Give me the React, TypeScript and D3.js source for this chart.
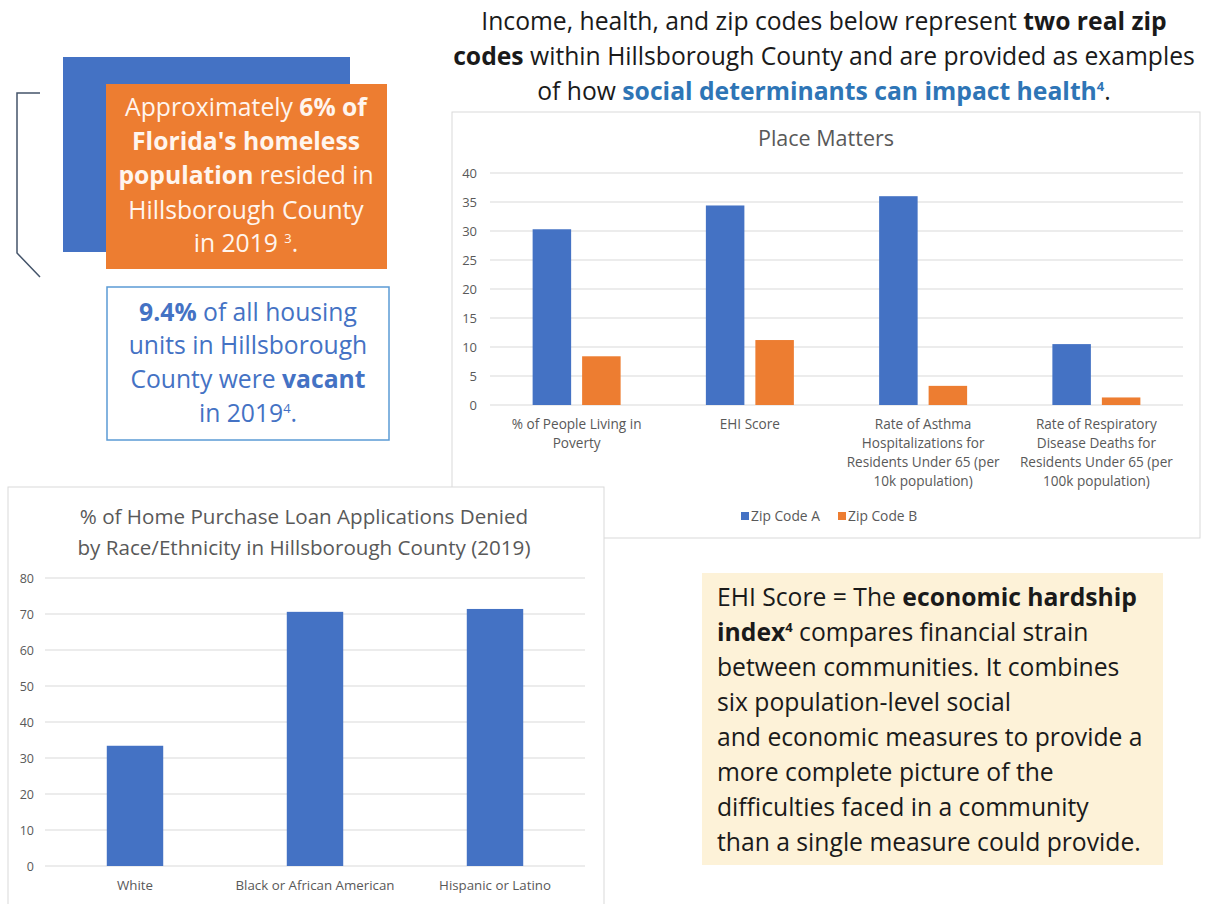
import React from "react";
import * as d3 from "d3";

// Place Matters chart
const zipCategories = [
  ["% of People Living in", "Poverty"],
  ["EHI Score"],
  ["Rate of Asthma", "Hospitalizations for", "Residents Under 65 (per", "10k population)"],
  ["Rate of Respiratory", "Disease Deaths for", "Residents Under 65 (per", "100k population)"],
];
const zipSeries = ["Zip Code A", "Zip Code B"];
const zipCodeA = [30.3, 34.4, 36.0, 10.5];
const zipCodeB = [8.4, 11.2, 3.3, 1.3];
const zipTicks = [0, 5, 10, 15, 20, 25, 30, 35, 40];

// loan denial chart
const loanCategories = ["White", "Black or African American", "Hispanic or Latino"];
const loanDenied = [33.4, 70.6, 71.4];
const loanTicks = [0, 10, 20, 30, 40, 50, 60, 70, 80];

const BLUE = "#4472C4";
const ORANGE = "#ED7D31";
const GRID = "#D9D9D9";
const AXIS_TEXT = "#595959";
const FONT = "'Open Sans', Lato, sans-serif";
const BODY = 24.7;

const PlaceMatters: React.FC = () => {
  const x = d3.scaleBand<number>().domain(d3.range(zipCategories.length)).range([490, 1183]);
  const y = d3.scaleLinear().domain([0, 40]).range([405, 173]);
  const groupW = 88;
  const inner = d3.scaleBand<string>().domain(zipSeries).range([0, groupW]).paddingInner(0.222);
  const off = (x.bandwidth() - groupW) / 2;
  const color = d3.scaleOrdinal<string, string>().domain(zipSeries).range([BLUE, ORANGE]);
  const values = [zipCodeA, zipCodeB];

  return (
    <g fontFamily={FONT}>
      <rect x={452} y={112} width={748} height={426} fill="#fff" stroke={GRID} />
      <text x={826} y={146} textAnchor="middle" fontSize={21.5} fill={AXIS_TEXT}>Place Matters</text>
      {zipTicks.map((t) => (
        <g key={t}>
          <line x1={490} x2={1183} y1={y(t)} y2={y(t)} stroke={GRID} strokeWidth={1} />
          <text x={477} y={y(t) + 4.5} textAnchor="end" fontSize={13} fill={AXIS_TEXT}>{t}</text>
        </g>
      ))}
      {zipSeries.map((s, si) =>
        values[si].map((v, i) => (
          <rect
            key={s + i}
            x={(x(i) ?? 0) + off + (inner(s) ?? 0)}
            y={y(v)}
            width={inner.bandwidth()}
            height={y(0) - y(v)}
            fill={color(s)}
          />
        ))
      )}
      {zipCategories.map((lines, i) => (
        <text key={i} x={(x(i) ?? 0) + x.bandwidth() / 2} y={429} textAnchor="middle" fontSize={13.6} fill={AXIS_TEXT}>
          {lines.map((l, li) => (
            <tspan key={li} x={(x(i) ?? 0) + x.bandwidth() / 2} dy={li === 0 ? 0 : 19}>{l}</tspan>
          ))}
        </text>
      ))}
      {zipSeries.map((s, si) => {
        const lx = si === 0 ? 741 : 838;
        return (
          <g key={s}>
            <rect x={lx} y={512} width={8} height={8} fill={color(s)} />
            <text x={lx + 10} y={520.5} fontSize={13.8} fill={AXIS_TEXT}>{s}</text>
          </g>
        );
      })}
    </g>
  );
};

const LoanChart: React.FC = () => {
  const x = d3.scaleBand<number>().domain(d3.range(loanCategories.length)).range([45, 585]);
  const y = d3.scaleLinear().domain([0, 80]).range([866, 578]);
  const barW = x.bandwidth() / 3.19;

  return (
    <g fontFamily={FONT}>
      <rect x={8} y={487} width={596} height={430} fill="#fff" stroke={GRID} />
      <text x={304} y={524} textAnchor="middle" fontSize={20.6} fill={AXIS_TEXT}>
        % of Home Purchase Loan Applications Denied
      </text>
      <text x={304} y={555} textAnchor="middle" fontSize={20.6} fill={AXIS_TEXT}>
        by Race/Ethnicity in Hillsborough County (2019)
      </text>
      {loanTicks.map((t) => (
        <g key={t}>
          <line x1={45} x2={585} y1={y(t)} y2={y(t)} stroke={GRID} strokeWidth={1} />
          <text x={34} y={y(t) + 4.5} textAnchor="end" fontSize={12.5} fill={AXIS_TEXT}>{t}</text>
        </g>
      ))}
      {loanDenied.map((v, i) => (
        <rect
          key={i}
          x={(x(i) ?? 0) + (x.bandwidth() - barW) / 2}
          y={y(v)}
          width={barW}
          height={y(0) - y(v)}
          fill={BLUE}
        />
      ))}
      {loanCategories.map((c, i) => (
        <text key={c} x={(x(i) ?? 0) + x.bandwidth() / 2} y={890} textAnchor="middle" fontSize={13.3} fill={AXIS_TEXT}>
          {c}
        </text>
      ))}
    </g>
  );
};

const App: React.FC = () => {
  return (
    <div style={{ position: "absolute", left: 0, top: 0 }}>
      <svg width={1209} height={904} viewBox="0 0 1209 904" style={{ display: "block", background: "#fff" }}>
        {/* left callouts */}
        <g fontFamily={FONT} fontSize={BODY}>
          <path d="M40,93 H17 V253 L40,277" fill="none" stroke="#44546A" strokeWidth={1.5} />
          <rect x={63} y={57} width={287} height={195} fill={BLUE} />
          <rect x={106} y={84} width={281} height={185} fill={ORANGE} />
          <text textAnchor="middle" fill="#FFF5EE">
            <tspan x={246} y={116}>Approximately <tspan fontWeight="bold">6% of</tspan></tspan>
            <tspan x={246} y={150} fontWeight="bold">Florida's homeless</tspan>
            <tspan x={246} y={184}><tspan fontWeight="bold">population</tspan> resided in</tspan>
            <tspan x={246} y={219}>Hillsborough County</tspan>
            <tspan x={246} y={252}>in 2019 <tspan dy={-9} fontSize={13}>3</tspan><tspan dy={9}>.</tspan></tspan>
          </text>
          <rect x={107} y={287} width={282} height={153} fill="#fff" stroke="#5B9BD5" strokeWidth={1.5} />
          <text textAnchor="middle" fill={BLUE}>
            <tspan x={248} y={321}><tspan fontWeight="bold">9.4%</tspan> of all housing</tspan>
            <tspan x={248} y={354}>units in Hillsborough</tspan>
            <tspan x={248} y={388}>County were <tspan fontWeight="bold">vacant</tspan></tspan>
            <tspan x={248} y={422}>in 2019<tspan dy={-9} fontSize={13}>4</tspan><tspan dy={9}>.</tspan></tspan>
          </text>
        </g>

        {/* heading */}
        <g fontFamily={FONT} fontSize={BODY} fill="#1a1a1a">
          <text x={824} y={30} textAnchor="middle">
            Income, health, and zip codes below represent <tspan fontWeight="bold">two real zip</tspan>
          </text>
          <text x={824} y={65} textAnchor="middle">
            <tspan fontWeight="bold">codes</tspan> within Hillsborough County and are provided as examples
          </text>
          <text x={824} y={100} textAnchor="middle">
            of how <tspan fill="#2E75B6" fontWeight="bold">social determinants can impact health</tspan>
            <tspan fill="#2E75B6" fontWeight="bold" dy={-9} fontSize={13}>4</tspan>
            <tspan dy={9}>.</tspan>
          </text>
        </g>

        <PlaceMatters />
        <LoanChart />

        {/* EHI note */}
        <g fontFamily={FONT} fontSize={BODY} fill="#1a1a1a">
          <rect x={702} y={573} width={461} height={292} fill="#FDF2D8" />
          <text x={717} y={606}>EHI Score = The <tspan fontWeight="bold">economic hardship</tspan></text>
          <text x={717} y={641}>
            <tspan fontWeight="bold">index</tspan>
            <tspan fontWeight="bold" dy={-9} fontSize={13}>4</tspan>
            <tspan dy={9}> compares financial strain</tspan>
          </text>
          <text x={717} y={676}>between communities. It combines</text>
          <text x={717} y={711}>six population-level social</text>
          <text x={717} y={746}>and economic measures to provide a</text>
          <text x={717} y={781}>more complete picture of the</text>
          <text x={717} y={816}>difficulties faced in a community</text>
          <text x={717} y={851}>than a single measure could provide.</text>
        </g>
      </svg>
    </div>
  );
};

export default App;
